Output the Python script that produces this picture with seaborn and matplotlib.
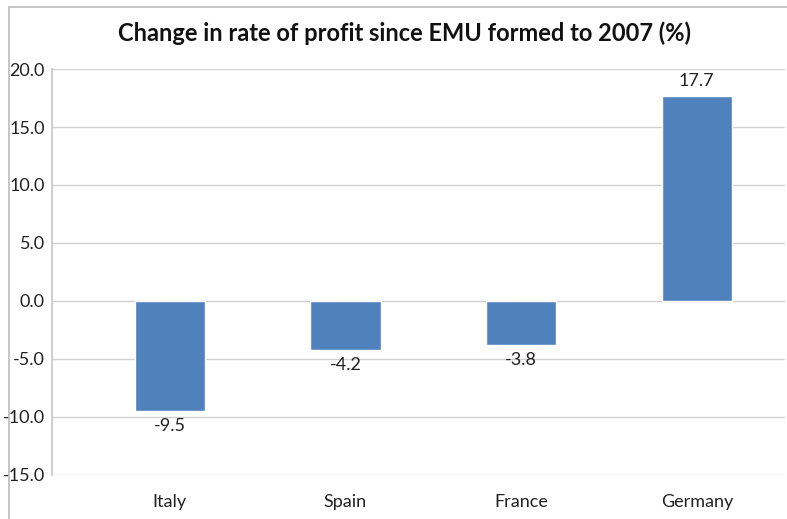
import matplotlib
matplotlib.use("Agg")
import matplotlib.pyplot as plt
import seaborn as sns
import pandas as pd
from matplotlib.patches import Rectangle

countries = ["Italy", "Spain", "France", "Germany"]
changes = [-9.5, -4.2, -3.8, 17.7]
yticks = [-15.0, -10.0, -5.0, 0.0, 5.0, 10.0, 15.0, 20.0]
title = "Change in rate of profit since EMU formed to 2007 (%)"

sns.set_theme(style="white")
plt.rcParams['font.family'] = ['Lato', 'DejaVu Sans']

df = pd.DataFrame({"country": countries, "change": changes})

fig = plt.figure(figsize=(7.87, 5.19), dpi=100)
ax = fig.add_axes([0.066, 0.085, 0.931, 0.782])

sns.barplot(data=df, x="country", y="change", color="#4F81BD", saturation=1,
            width=0.4, ax=ax, zorder=3)

ax.set_ylim(-15, 20)
ax.set_xlim(-0.67, 3.5)
ax.set_yticks(yticks)
ax.set_yticklabels([f"{v:.1f}" for v in yticks], fontsize=13, color="#222222")
ax.tick_params(axis="x", labelsize=13, colors="#222222", pad=14, length=0)
ax.tick_params(axis="y", length=0, pad=5)
ax.set_xlabel("")
ax.set_ylabel("")
ax.grid(axis="y", color="#d0d0d0", linewidth=1, zorder=0)
for s in ax.spines.values():
    s.set_visible(False)
ax.spines["left"].set_visible(True)
ax.spines["left"].set_color("#c8c8c8")

for i, v in enumerate(changes):
    if v >= 0:
        ax.text(i, v + 0.6, f"{v:.1f}", ha="center", va="bottom", fontsize=13, color="#222222")
    else:
        ax.text(i, v - 0.6, f"{v:.1f}", ha="center", va="top", fontsize=13, color="#222222")

fig.text(0.514, 0.936, title, ha="center", va="center", fontsize=17, fontweight="bold", color="#111111")

fig.patches.append(Rectangle((0.011, -0.01), 1.0, 0.996, transform=fig.transFigure,
                             fill=False, edgecolor="#bbbbbb", linewidth=1.2))

fig.savefig("out.png", dpi=100)
